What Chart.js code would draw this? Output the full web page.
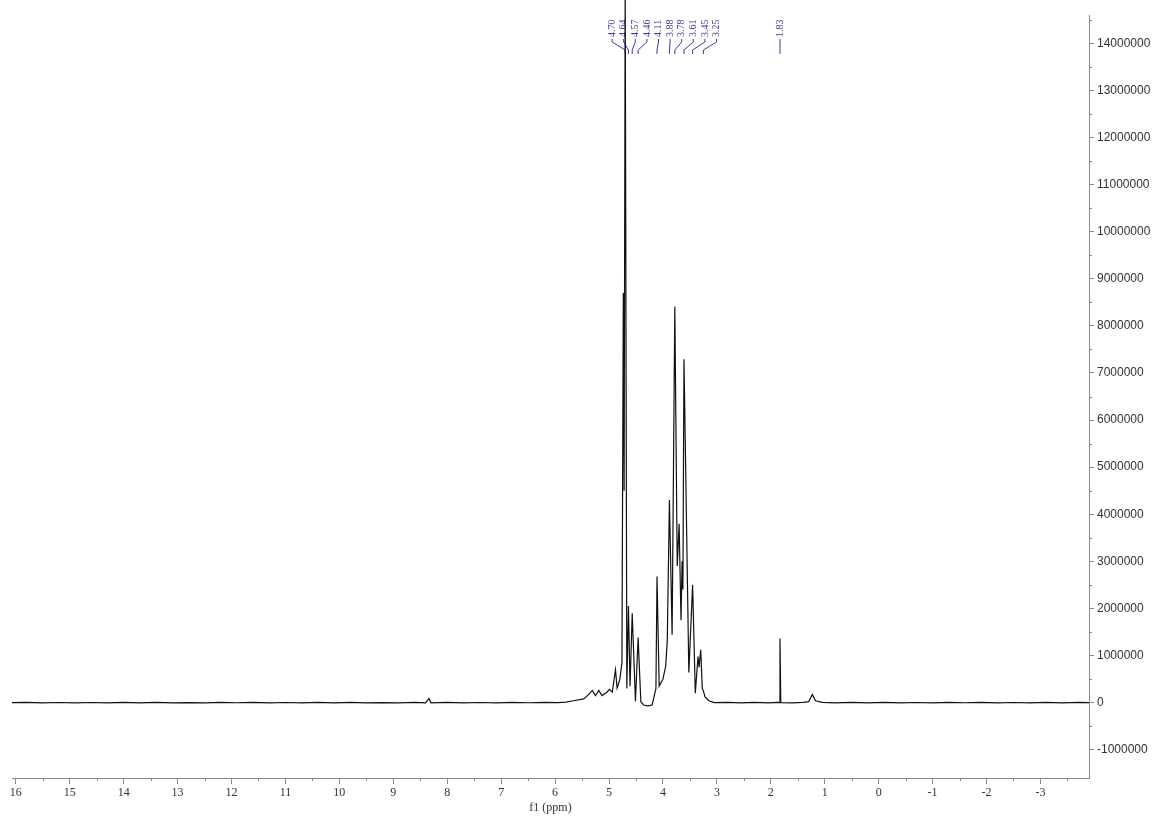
<!DOCTYPE html>
<html>
<head>
<meta charset="utf-8">
<script src="https://cdn.jsdelivr.net/npm/chart.js@4.4.1/dist/chart.umd.min.js"></script>
<style>
  html, body { margin: 0; padding: 0; background: #ffffff; }
  #wrap { width: 1154px; height: 818px; position: relative; }
</style>
</head>
<body>
<div id="wrap"><canvas id="c" width="1154" height="818"></canvas></div>
<script>
// ---- data ----
const shiftPpm = [
  16.07, 15.8, 15.5, 15.2, 14.9, 14.6, 14.3, 14.0, 13.7, 13.4, 13.1, 12.8, 12.5, 12.2, 11.9, 11.6,
  11.3, 11.0, 10.7, 10.4, 10.1, 9.8, 9.5, 9.2, 8.9, 8.6, 8.40, 8.34, 8.30, 8.0, 7.7, 7.4, 7.1, 6.8,
  6.5, 6.2, 5.95, 5.80, 5.66, 5.47, 5.38, 5.31, 5.25, 5.19, 5.13, 5.04, 4.99, 4.94, 4.88, 4.85,
  4.80, 4.76, 4.735, 4.72, 4.70, 4.67, 4.64, 4.61, 4.57, 4.51, 4.46, 4.41, 4.36, 4.28, 4.20, 4.15,
  4.13, 4.11, 4.07, 4.00, 3.95, 3.92, 3.88, 3.83, 3.78, 3.735, 3.70, 3.665, 3.645, 3.63, 3.61, 3.52,
  3.45, 3.40, 3.35, 3.33, 3.30, 3.27, 3.25, 3.22, 3.15, 3.05, 2.8, 2.55, 2.3, 2.05, 1.87, 1.845,
  1.83, 1.815, 1.6, 1.40, 1.30, 1.23, 1.17, 1.05, 0.8, 0.5, 0.2, -0.1, -0.4, -0.7, -1.0, -1.3,
  -1.6, -1.9, -2.2, -2.5, -2.8, -3.1, -3.4, -3.7, -3.9
];
const signal = [
  0, 5000, -4000, 3000, -6000, 3000, -4000, 5000, -3000, 4000, -5000, 2000, -4000, 5000, -2000, 4000,
  -5000, 3000, -4000, 4000, -3000, 5000, -4000, 2000, -4000, 4000, -3000, 90000, -4000, 4000, -4000, 3000, -5000, 4000,
  -2000, 4000, 0, 10000, 40000, 80000, 170000, 260000, 150000, 260000, 150000, 220000, 280000, 220000, 700000, 310000,
  490000, 850000, 8700000, 4500000, 15300000, 300000, 2050000, 350000, 1900000, 30000, 1380000, 20000, -50000, -70000, -50000, 200000,
  300000, 2680000, 350000, 500000, 770000, 1300000, 4300000, 1440000, 8410000, 2900000, 3800000, 1750000, 3000000, 2400000, 7290000, 640000,
  2500000, 200000, 980000, 750000, 1120000, 300000, 250000, 120000, 40000, 0, 4000, -4000, 5000, -3000, 4000, 0,
  1360000, 0, -4000, 4000, 20000, 170000, 40000, 5000, -4000, 4000, -3000, 5000, -4000, 3000, -5000, 4000,
  -2000, 4000, -4000, 3000, -4000, 4000, -3000, 4000, 0
];
const xTickValues = [16, 15, 14, 13, 12, 11, 10, 9, 8, 7, 6, 5, 4, 3, 2, 1, 0, -1, -2, -3];
const yTickValues = [-1000000, 0, 1000000, 2000000, 3000000, 4000000, 5000000, 6000000, 7000000,
  8000000, 9000000, 10000000, 11000000, 12000000, 13000000, 14000000];
const groupPeaks = [4.70, 4.64, 4.57, 4.46, 4.11, 3.88, 3.78, 3.61, 3.45, 3.25];
const groupPeakLabels = ['4.70', '4.64', '4.57', '4.46', '4.11', '3.88', '3.78', '3.61', '3.45', '3.25'];
const singlePeaks = [1.83];
const singlePeakLabels = ['1.83'];

const AXIS_COLOR = '#8a8a8a';
const TEXT_COLOR = '#333333';
const LABEL_BLUE = '#3b3b9e';

const minorTicks = {
  id: 'minorTicks',
  afterDraw(chart) {
    const ctx = chart.ctx;
    const xs = chart.scales.x, ys = chart.scales.y;
    const area = chart.chartArea;
    ctx.save();
    ctx.strokeStyle = AXIS_COLOR;
    ctx.lineWidth = 1;
    ctx.beginPath();
    xTickValues.forEach(v => {
      const m = v - 0.5;
      if (m >= xs.min && m <= xs.max) {
        const px = Math.round(xs.getPixelForValue(m)) + 0.5;
        ctx.moveTo(px, area.bottom);
        ctx.lineTo(px, area.bottom + 3);
      }
    });
    yTickValues.forEach(v => {
      const m = v + 500000;
      if (m >= ys.min && m <= ys.max) {
        const py = Math.round(ys.getPixelForValue(m)) + 0.5;
        ctx.moveTo(area.right, py);
        ctx.lineTo(area.right + 3, py);
      }
    });
    ctx.stroke();
    ctx.restore();
  }
};

const peakLabels = {
  id: 'peakLabels',
  beforeDatasetsDraw(chart) {
    const ctx = chart.ctx;
    const xs = chart.scales.x;
    ctx.save();
    ctx.fillStyle = LABEL_BLUE;
    ctx.strokeStyle = LABEL_BLUE;
    ctx.lineWidth = 1;
    ctx.font = '10px "Liberation Serif"';
    ctx.textAlign = 'left';
    ctx.textBaseline = 'middle';
    const spacing = 11.6;
    const center = (xs.getPixelForValue(groupPeaks[0]) + xs.getPixelForValue(groupPeaks[groupPeaks.length - 1])) / 2;
    const start = center - spacing * (groupPeaks.length - 1) / 2;
    const draw = (lx, px, text) => {
      ctx.save();
      ctx.translate(lx, 37);
      ctx.rotate(-Math.PI / 2);
      ctx.fillText(text, 0, 0);
      ctx.restore();
      ctx.beginPath();
      ctx.moveTo(lx, 39);
      ctx.lineTo(lx, 42);
      ctx.lineTo(px, 50);
      ctx.lineTo(px, 54);
      ctx.stroke();
    };
    groupPeaks.forEach((v, i) => {
      draw(start + i * spacing, xs.getPixelForValue(v), groupPeakLabels[i]);
    });
    singlePeaks.forEach((v, i) => {
      const px = xs.getPixelForValue(v);
      draw(px, px, singlePeakLabels[i]);
    });
    ctx.restore();
  }
};

new Chart(document.getElementById('c'), {
  type: 'scatter',
  data: {
    datasets: [{
      data: shiftPpm.map((x, i) => ({ x: x, y: signal[i] })),
      showLine: true,
      borderColor: '#111111',
      borderWidth: 1.2,
      pointRadius: 0,
      tension: 0,
      clip: false
    }]
  },
  options: {
    responsive: false,
    devicePixelRatio: 1,
    animation: false,
    events: [],
    layout: { padding: { left: 12, top: 15, right: 0, bottom: 0 } },
    plugins: { legend: { display: false }, tooltip: { enabled: false } },
    scales: {
      x: {
        type: 'linear',
        position: 'bottom',
        reverse: true,
        min: -3.9,
        max: 16.07,
        afterBuildTicks: s => { s.ticks = xTickValues.map(v => ({ value: v })); },
        afterFit: s => { s.height = 40; },
        ticks: {
          autoSkip: false, maxRotation: 0, padding: 2, color: TEXT_COLOR,
          font: { family: 'Liberation Serif', size: 12 },
          callback: v => String(v)
        },
        grid: { drawOnChartArea: false, drawTicks: true, tickLength: 6, color: AXIS_COLOR, tickColor: AXIS_COLOR },
        border: { display: true, color: AXIS_COLOR, width: 1 },
        title: {
          display: true, text: 'f1 (ppm)', color: TEXT_COLOR,
          font: { family: 'Liberation Serif', size: 12 },
          padding: { top: 0, bottom: 3 }
        }
      },
      y: {
        type: 'linear',
        position: 'right',
        min: -1600000,
        max: 14600000,
        afterBuildTicks: s => { s.ticks = yTickValues.map(v => ({ value: v })); },
        afterFit: s => { s.width = 65; },
        ticks: {
          autoSkip: false, padding: 3, color: TEXT_COLOR,
          font: { family: 'Liberation Sans', size: 12 },
          callback: v => String(v)
        },
        grid: { drawOnChartArea: false, drawTicks: true, tickLength: 5, color: AXIS_COLOR, tickColor: AXIS_COLOR },
        border: { display: true, color: AXIS_COLOR, width: 1 }
      }
    }
  },
  plugins: [minorTicks, peakLabels]
});
</script>
</body>
</html>
